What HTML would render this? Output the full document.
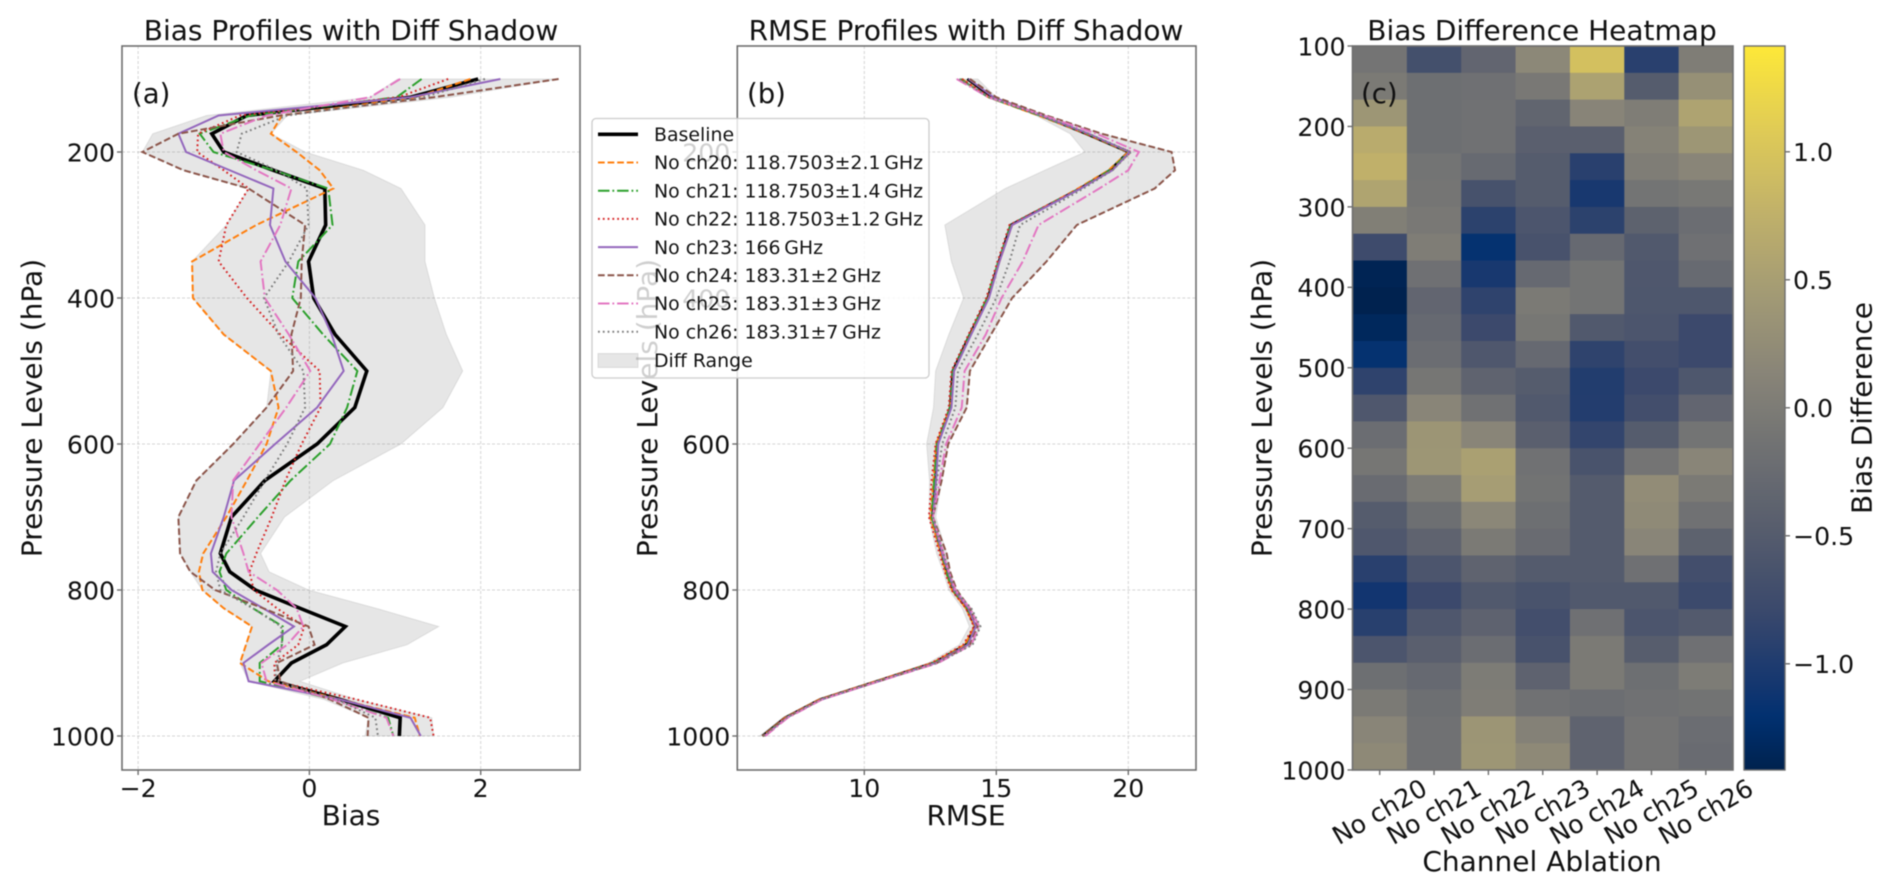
<!DOCTYPE html>
<html lang="en">
<head>
<meta charset="utf-8">
<title>Bias and RMSE Profiles</title>
<style>
  html, body { margin: 0; padding: 0; background: #fff; }
  svg { display: block; filter: blur(0.45px); }
  text { font-family: "DejaVu Sans", "Liberation Sans", sans-serif; fill: #111; }
</style>
</head>
<body>
<svg id="figure" xmlns="http://www.w3.org/2000/svg" width="1892" height="891" viewBox="0 0 1892 891">
  <rect width="1892" height="891" fill="#fff"/>
  <g id="panel-a"></g>
  <g id="panel-b"></g>
  <g id="panel-c"></g>

  <text x="351" y="40" font-size="28" text-anchor="middle">Bias Profiles with Diff Shadow</text>
  <text x="966" y="40" font-size="28" text-anchor="middle">RMSE Profiles with Diff Shadow</text>
  <text x="1542" y="40" font-size="28" text-anchor="middle">Bias Difference Heatmap</text>

  <text x="132" y="103" font-size="27.5">(a)</text>
  <text x="747" y="103" font-size="27.5">(b)</text>
  <text x="351" y="825" font-size="28" text-anchor="middle">Bias</text>
  <text x="966" y="825" font-size="28" text-anchor="middle">RMSE</text>
  <text x="1542" y="871" font-size="28" text-anchor="middle">Channel Ablation</text>
  <text transform="translate(41.7,408) rotate(-90)" font-size="28" text-anchor="middle">Pressure Levels (hPa)</text>
  <text transform="translate(657,408) rotate(-90)" font-size="28" text-anchor="middle">Pressure Levels (hPa)</text>
  <text transform="translate(1271.7,408) rotate(-90)" font-size="28" text-anchor="middle">Pressure Levels (hPa)</text>
  <text transform="translate(1871.6,408) rotate(-90)" font-size="28" text-anchor="middle">Bias Difference</text>

  <g id="legend">
    <rect x="592" y="118.5" width="337" height="259.5" rx="4" fill="#fff" fill-opacity="0.8" stroke="#ccc" stroke-width="1.3"/>
    <line x1="598" x2="638" y1="134.3" y2="134.3" stroke="#000" stroke-width="3.6"/>
    <line x1="598" x2="638" y1="162.5" y2="162.5" stroke="#ff7f0e" stroke-width="2" stroke-dasharray="6.7 2.9"/>
    <line x1="598" x2="638" y1="190.7" y2="190.7" stroke="#2ca02c" stroke-width="2" stroke-dasharray="11.5 2.9 1.8 2.9"/>
    <line x1="598" x2="638" y1="218.9" y2="218.9" stroke="#d62728" stroke-width="2" stroke-dasharray="1.8 3"/>
    <line x1="598" x2="638" y1="247.1" y2="247.1" stroke="#9467bd" stroke-width="2"/>
    <line x1="598" x2="638" y1="275.3" y2="275.3" stroke="#8c564b" stroke-width="2" stroke-dasharray="6.7 2.9"/>
    <line x1="598" x2="638" y1="303.5" y2="303.5" stroke="#e377c2" stroke-width="2" stroke-dasharray="11.5 2.9 1.8 2.9"/>
    <line x1="598" x2="638" y1="331.7" y2="331.7" stroke="#7f7f7f" stroke-width="2" stroke-dasharray="1.8 3"/>
    <rect x="598" y="353.5" width="40" height="14" fill="#808080" fill-opacity="0.2" stroke="#808080" stroke-opacity="0.2"/>
    <g font-size="18.9">
      <text x="654" y="141">Baseline</text>
      <text x="654" y="169.2">No ch20: 118.7503±2.1&#8201;GHz</text>
      <text x="654" y="197.4">No ch21: 118.7503±1.4&#8201;GHz</text>
      <text x="654" y="225.6">No ch22: 118.7503±1.2&#8201;GHz</text>
      <text x="654" y="253.8">No ch23: 166&#8201;GHz</text>
      <text x="654" y="282">No ch24: 183.31±2&#8201;GHz</text>
      <text x="654" y="310.2">No ch25: 183.31±3&#8201;GHz</text>
      <text x="654" y="338.4">No ch26: 183.31±7&#8201;GHz</text>
      <text x="654" y="367">Diff Range</text>
    </g>
  </g>
</svg>

<script>
const levels = [100,125,150,175,200,225,250,300,350,400,450,500,550,600,650,700,750,775,800,825,850,875,900,925,950,975,1000];

const biasBaseline = [1.97,1.18,-0.73,-1.14,-1.0,-0.42,0.18,0.19,-0.01,0.05,0.3,0.67,0.53,0.09,-0.52,-0.91,-1.04,-0.93,-0.63,-0.11,0.42,0.2,-0.21,-0.41,0.36,1.06,1.05];
const biasCh20 = [1.88,1.25,-0.32,-0.45,-0.15,0.12,0.28,-0.62,-1.37,-1.36,-1.0,-0.45,-0.36,-0.5,-0.73,-0.97,-1.24,-1.29,-1.25,-1.0,-0.67,-0.74,-0.81,-0.48,0.36,1.23,1.29];
const biasCh21 = [1.31,1.02,-0.69,-1.28,-1.12,-0.42,0.22,0.27,-0.13,-0.2,0.16,0.56,0.44,0.24,-0.22,-0.6,-0.97,-1.05,-0.97,-0.66,-0.31,-0.32,-0.58,-0.58,0.28,0.92,0.98];
const biasCh22 = [1.62,1.04,-0.81,-1.3,-1.31,-1.0,-0.71,-0.97,-1.06,-0.73,-0.34,0.12,0.13,-0.09,-0.28,-0.44,-0.62,-0.7,-0.65,-0.38,-0.06,-0.13,-0.41,-0.4,0.55,1.41,1.45];
const biasCh23 = [2.23,1.18,-1.06,-1.53,-1.44,-0.93,-0.42,-0.46,-0.28,0.07,0.26,0.4,0.09,-0.4,-0.88,-1.0,-1.15,-1.13,-0.91,-0.54,-0.18,-0.48,-0.77,-0.71,0.36,1.18,1.3];
const biasCh24 = [2.91,1.45,-0.34,-1.53,-1.95,-1.47,-0.71,-0.05,-0.09,-0.1,-0.21,-0.19,-0.5,-0.89,-1.32,-1.53,-1.51,-1.39,-1.1,-0.54,-0.01,0.06,-0.38,-0.34,0.24,0.69,0.68];
const biasCh25 = [1.06,0.71,-0.5,-1.04,-1.0,-0.62,-0.21,-0.34,-0.57,-0.52,-0.24,0.01,-0.27,-0.58,-0.89,-0.91,-0.77,-0.71,-0.38,-0.15,-0.07,-0.26,-0.56,-0.5,0.28,0.9,0.98];
const biasCh26 = [2.05,1.33,-0.26,-0.79,-0.85,-0.38,-0.03,-0.01,-0.24,-0.53,-0.36,-0.07,-0.05,-0.26,-0.52,-0.77,-1.04,-1.09,-1.04,-0.66,-0.33,-0.32,-0.38,-0.4,0.32,0.77,0.8];

const rmseBaseline = [13.9,14.83,16.7,18.4,20.0,19.3,18.17,15.55,15.1,14.68,14.0,13.35,13.25,12.77,12.7,12.58,12.93,13.12,13.35,13.88,14.19,13.85,12.61,10.47,8.32,7.0,6.14];
const rmseCh20 = [13.7,14.7,16.6,18.4,20.0,19.25,18.1,15.6,15.12,14.7,14.02,13.4,13.25,12.72,12.62,12.5,12.9,13.08,13.32,13.85,14.18,13.8,12.58,10.45,8.3,7.0,6.15];
const rmseCh21 = [13.65,14.7,16.65,18.45,20.05,19.3,18.15,15.55,15.08,14.65,14.0,13.35,13.25,12.75,12.65,12.55,12.95,13.1,13.35,13.9,14.22,13.9,12.62,10.5,8.35,7.02,6.18];
const rmseCh22 = [13.7,14.75,16.7,18.4,20.1,19.35,18.15,15.5,15.05,14.62,13.95,13.3,13.2,12.7,12.55,12.45,12.85,13.05,13.3,13.85,14.15,13.75,12.55,10.45,8.3,7.0,6.16];
const rmseCh23 = [13.95,14.9,16.7,18.5,20.05,19.4,18.2,15.6,15.12,14.72,14.05,13.4,13.3,12.8,12.72,12.6,12.95,13.18,13.4,13.95,14.22,13.92,12.7,10.55,8.38,7.05,6.22];
const rmseCh24 = [14.0,15.0,16.9,19.0,21.64,21.77,21.0,18.05,16.9,15.6,14.8,14.0,13.88,13.18,12.93,12.6,13.12,13.25,13.5,14.0,14.3,14.0,12.75,10.55,8.35,7.05,6.15];
const rmseCh25 = [13.5,14.7,16.8,18.8,20.4,20.0,18.9,16.6,16.0,15.2,14.6,13.8,13.69,13.1,12.85,12.6,13.0,13.2,13.45,14.0,14.35,14.05,12.8,10.55,8.4,7.1,6.25];
const rmseCh26 = [13.6,14.75,16.7,18.5,20.1,19.4,18.3,15.9,15.5,15.0,14.3,13.55,13.45,12.95,12.75,12.6,13.0,13.2,13.4,14.05,14.4,14.1,12.75,10.5,8.35,7.05,6.2];

const pressureTicksProfile = [200,400,600,800,1000];
const biasTicks = [-2,0,2];
const rmseTicks = [10,15,20];
const pressureTicksHeatmap = [100,200,300,400,500,600,700,800,900,1000];
const colorbarTicks = [1.0,0.5,0.0,-0.5,-1.0];
const channelLabels = ["No ch20","No ch21","No ch22","No ch23","No ch24","No ch25","No ch26"];

const heatRow00 = [-0.11,-0.68,-0.34,0.18,0.95,-0.92,0.03];
const heatRow01 = [-0.02,-0.19,-0.17,-0.05,0.55,-0.49,0.30];
const heatRow02 = [0.38,-0.19,-0.16,-0.35,0.13,0.03,0.57];
const heatRow03 = [0.68,-0.19,-0.16,-0.44,-0.44,0.10,0.38];
const heatRow04 = [0.75,-0.12,-0.27,-0.49,-0.92,0.03,0.15];
const heatRow05 = [0.58,-0.10,-0.65,-0.49,-1.05,-0.12,-0.06];
const heatRow06 = [0.05,-0.05,-0.90,-0.60,-0.90,-0.40,-0.22];
const heatRow07 = [-0.75,0.03,-1.18,-0.64,-0.28,-0.54,-0.17];
const heatRow08 = [-1.38,-0.17,-1.05,-0.28,-0.12,-0.56,-0.27];
const heatRow09 = [-1.41,-0.34,-0.88,-0.03,-0.12,-0.57,-0.57];
const heatRow10 = [-1.33,-0.28,-0.78,-0.07,-0.54,-0.60,-0.78];
const heatRow11 = [-1.18,-0.22,-0.56,-0.28,-0.88,-0.70,-0.78];
const heatRow12 = [-0.88,-0.09,-0.37,-0.49,-0.98,-0.78,-0.57];
const heatRow13 = [-0.56,0.15,-0.16,-0.54,-0.97,-0.70,-0.34];
const heatRow14 = [-0.22,0.37,0.15,-0.44,-0.85,-0.49,-0.12];
const heatRow15 = [-0.09,0.38,0.52,-0.16,-0.63,-0.11,0.15];
const heatRow16 = [-0.25,0.00,0.48,-0.13,-0.51,0.25,-0.03];
const heatRow17 = [-0.49,-0.19,0.17,-0.19,-0.51,0.22,-0.16];
const heatRow18 = [-0.56,-0.37,-0.03,-0.25,-0.51,0.15,-0.40];
const heatRow19 = [-0.92,-0.60,-0.37,-0.51,-0.51,-0.17,-0.70];
const heatRow20 = [-1.10,-0.78,-0.54,-0.63,-0.54,-0.54,-0.77];
const heatRow21 = [-0.93,-0.56,-0.39,-0.70,-0.17,-0.60,-0.52];
const heatRow22 = [-0.60,-0.44,-0.22,-0.64,-0.02,-0.47,-0.17];
const heatRow23 = [-0.19,-0.28,0.00,-0.39,-0.03,-0.19,0.00];
const heatRow24 = [-0.02,-0.19,0.02,-0.16,-0.21,-0.16,-0.13];
const heatRow25 = [0.15,-0.16,0.37,0.08,-0.37,-0.11,-0.22];
const heatRow26 = [0.20,-0.16,0.38,0.20,-0.37,-0.11,-0.25];
const heatRows = [heatRow00,heatRow01,heatRow02,heatRow03,heatRow04,heatRow05,heatRow06,heatRow07,heatRow08,heatRow09,heatRow10,heatRow11,heatRow12,heatRow13,heatRow14,heatRow15,heatRow16,heatRow17,heatRow18,heatRow19,heatRow20,heatRow21,heatRow22,heatRow23,heatRow24,heatRow25,heatRow26];

const colorLimit = 1.413;

const SVG_NS = "http://www.w3.org/2000/svg";
const SPINE = "#6e6e6e";
const FONT = 25.2;

function mk(tag, attrs, parent, text) {
  const node = document.createElementNS(SVG_NS, tag);
  for (const key in attrs) node.setAttribute(key, attrs[key]);
  if (text !== undefined) node.textContent = text;
  parent.appendChild(node);
  return node;
}

function cividis(t) {
  const stops = [[0,0,34,78],[0.07,0,48,112],[0.111,18,53,112],[0.222,59,73,108],[0.333,87,93,109],[0.444,112,113,115],[0.556,138,134,120],[0.667,165,156,116],[0.778,195,179,105],[0.889,225,204,85],[1,254,232,56]];
  t = Math.max(0, Math.min(1, t));
  for (let i = 1; i < stops.length; i++) {
    if (t <= stops[i][0]) {
      const a = stops[i - 1], b = stops[i];
      const f = (t - a[0]) / (b[0] - a[0]);
      return "rgb(" + [1, 2, 3].map(function (k) { return Math.round(a[k] + (b[k] - a[k]) * f); }).join(",") + ")";
    }
  }
  return "rgb(254,232,56)";
}
function colorOf(v) { return cividis((v + colorLimit) / (2 * colorLimit)); }
function fmtTick(v) { return String(v).replace("-", "\u2212"); }

const TOP = 46, BOTTOM = 770;
function yProfile(p) { return 152 + 0.73 * (p - 200); }
function xBias(v) { return 309.4 + 85.65 * v; }
function xRmse(v) { return 864.3 + 26.4 * (v - 10); }
function yHeat(p) { return 46 + 0.8044 * (p - 100); }

const seriesStyles = [
  { key: "ch20", color: "#ff7f0e", dash: "6.7 2.9" },
  { key: "ch21", color: "#2ca02c", dash: "11.5 2.9 1.8 2.9" },
  { key: "ch22", color: "#d62728", dash: "1.8 3" },
  { key: "ch23", color: "#9467bd", dash: "" },
  { key: "ch24", color: "#8c564b", dash: "6.7 2.9" },
  { key: "ch25", color: "#e377c2", dash: "11.5 2.9 1.8 2.9" },
  { key: "ch26", color: "#7f7f7f", dash: "1.8 3" }
];

function drawProfilePanel(group, prefix, left, right, xScale, xTicks, baseline, series) {
  /* gridlines */
  xTicks.forEach(function (t) {
    const g = mk("line", { x1: xScale(t), x2: xScale(t), y1: TOP, y2: BOTTOM, stroke: "#b0b0b0", "stroke-opacity": 0.55, "stroke-width": 1, "stroke-dasharray": "3 2" }, group);
    
    
  });
  pressureTicksProfile.forEach(function (p) {
    const g = mk("line", { x1: left, x2: right, y1: yProfile(p), y2: yProfile(p), stroke: "#b0b0b0", "stroke-opacity": 0.55, "stroke-width": 1, "stroke-dasharray": "3 2" }, group);
    
    
  });

  /* diff shadow: baseline plus/minus the largest absolute departure at each level */
  const spread = levels.map(function (_, i) {
    return Math.max.apply(null, series.map(function (s) { return Math.abs(s[i] - baseline[i]); }));
  });
  const upper = levels.map(function (p, i) { return xScale(baseline[i] + spread[i]).toFixed(1) + "," + yProfile(p).toFixed(1); });
  const lower = levels.map(function (p, i) { return xScale(baseline[i] - spread[i]).toFixed(1) + "," + yProfile(p).toFixed(1); }).reverse();
  const shadow = mk("polygon", { points: upper.concat(lower).join(" "), fill: "#808080", "fill-opacity": 0.2, stroke: "#808080", "stroke-opacity": 0.18, "stroke-width": 1 }, group);
  
  

  /* lines */
  function linePoints(arr) {
    return arr.map(function (v, i) { return xScale(v).toFixed(2) + "," + yProfile(levels[i]).toFixed(2); }).join(" ");
  }
  const base = mk("polyline", { points: linePoints(baseline), fill: "none", stroke: "#000", "stroke-width": prefix === "rmse" ? 2.6 : 3.6, "stroke-linejoin": "miter" }, group);
  
  
  series.forEach(function (arr, idx) {
    const st = seriesStyles[idx];
    const attrs = { points: linePoints(arr), fill: "none", stroke: st.color, "stroke-width": 2 };
    if (st.dash) attrs["stroke-dasharray"] = st.dash;
    const ln = mk("polyline", attrs, group);
    
    
  });

  /* spines */
  const frame = mk("rect", { x: left, y: TOP, width: right - left, height: BOTTOM - TOP, fill: "none", stroke: SPINE, "stroke-width": 1.6 }, group);
  
  

  /* ticks */
  xTicks.forEach(function (t) {
    const x = xScale(t);
    const m = mk("line", { x1: x, x2: x, y1: BOTTOM, y2: BOTTOM + 5, stroke: SPINE, "stroke-width": 1.4 }, group);
    
    
    const lb = mk("text", { x: x, y: 797, "font-size": FONT, "text-anchor": "middle" }, group, fmtTick(t));
    
    
  });
  pressureTicksProfile.forEach(function (p) {
    const y = yProfile(p);
    const m = mk("line", { x1: left - 5, x2: left, y1: y, y2: y, stroke: SPINE, "stroke-width": 1.4 }, group);
    
    
    const lb = mk("text", { x: left - 7, y: y + 9.4, "font-size": FONT, "text-anchor": "end" }, group, String(p));
    
    
  });
}

drawProfilePanel(document.getElementById("panel-a"), "bias", 122, 580, xBias, biasTicks, biasBaseline,
  [biasCh20, biasCh21, biasCh22, biasCh23, biasCh24, biasCh25, biasCh26]);
drawProfilePanel(document.getElementById("panel-b"), "rmse", 737.3, 1196, xRmse, rmseTicks, rmseBaseline,
  [rmseCh20, rmseCh21, rmseCh22, rmseCh23, rmseCh24, rmseCh25, rmseCh26]);

/* heatmap */
(function () {
  const group = document.getElementById("panel-c");
  const left = 1352.5, right = 1733;
  const colW = (right - left) / channelLabels.length;
  const rowH = (BOTTOM - TOP) / heatRows.length;

  heatRows.forEach(function (row, r) {
    row.forEach(function (v, c) {
      const cell = mk("rect", { x: left + c * colW, y: TOP + r * rowH, width: colW + 0.4, height: rowH + 0.4, fill: colorOf(v) }, group);
      
      
    });
  });

  const frame = mk("rect", { x: left, y: TOP, width: right - left, height: BOTTOM - TOP, fill: "none", stroke: SPINE, "stroke-width": 1.6 }, group);
  
  

  pressureTicksHeatmap.forEach(function (p) {
    const y = yHeat(p);
    const m = mk("line", { x1: left - 5, x2: left, y1: y, y2: y, stroke: SPINE, "stroke-width": 1.4 }, group);
    
    
    const lb = mk("text", { x: left - 7, y: y + 9.4, "font-size": FONT, "text-anchor": "end" }, group, String(p));
    
    
  });

  channelLabels.forEach(function (name, c) {
    const x = left + (c + 0.5) * colW;
    const m = mk("line", { x1: x, x2: x, y1: BOTTOM, y2: BOTTOM + 5, stroke: SPINE, "stroke-width": 1.4 }, group);
    
    
    const lb = mk("text", { transform: "translate(" + x + ",812) rotate(-30)", "font-size": FONT, "text-anchor": "middle", "dominant-baseline": "central" }, group, name);
    
    
  });

  const panelLetter = mk("text", { x: 1361, y: 103, "font-size": 27.5 }, group, "(c)");
  
  

  /* colorbar */
  const cbLeft = 1744, cbRight = 1785;
  const defs = mk("defs", {}, group);
  const grad = mk("linearGradient", { id: "cbar-gradient", x1: 0, y1: 1, x2: 0, y2: 0 }, defs);
  for (let i = 0; i <= 40; i++) {
    mk("stop", { offset: i / 40, "stop-color": cividis(i / 40) }, grad);
  }
  const bar = mk("rect", { x: cbLeft, y: TOP, width: cbRight - cbLeft, height: BOTTOM - TOP, fill: "url(#cbar-gradient)", stroke: SPINE, "stroke-width": 1.4 }, group);
  
  

  function yColor(v) { return 407.8 - 256 * v; }
  colorbarTicks.forEach(function (t) {
    const y = yColor(t);
    const m = mk("line", { x1: cbRight, x2: cbRight + 5, y1: y, y2: y, stroke: SPINE, "stroke-width": 1.4 }, group);
    
    
    const lb = mk("text", { x: cbRight + 8, y: y + 9.4, "font-size": FONT }, group, fmtTick(t.toFixed(1)));
    
    
  });
})();
</script>
</body>
</html>
